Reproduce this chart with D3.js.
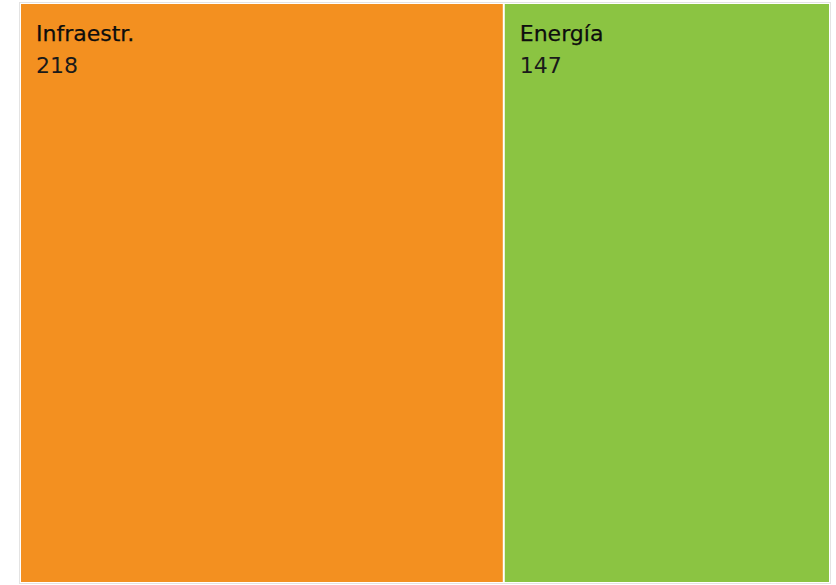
<!DOCTYPE html>
<html>
<head>
<meta charset="utf-8">
<script src="https://cdn.jsdelivr.net/npm/d3@7"></script>
<style>
  body { margin: 0; background: #fff; }
  text { font-family: "DejaVu Sans", sans-serif; }
</style>
</head>
<body>
<svg id="chart"></svg>
<script>
const categories = ["Infraestr.", "Energía"];
const values = [218, 147];
const colors = ["#F39020", "#8BC442"];

const width = 836,
      height = 585,
      svg = d3.select("#chart")
              .attr("width", width)
              .attr("height", height);

const x0 = 21, y0 = 4, x1 = 829, y1 = 582;

// light frame around the whole tree
svg.append("rect")
    .attr("x", x0 - 1.5)
    .attr("y", y0 - 1.5)
    .attr("width", x1 - x0 + 3)
    .attr("height", y1 - y0 + 3)
    .attr("fill", "none")
    .attr("stroke", "#e3e3e3");

const root = d3.hierarchy({children: categories.map((c, i) => ({name: c, value: values[i], color: colors[i]}))})
    .sum((d) => d.value || 0);

d3.treemap()
    .tile(d3.treemapDice)
    .size([x1 - x0, y1 - y0])
    .paddingInner(2)(root);

const cell = svg.append("g")
    .attr("transform", `translate(${[x0, y0]})`)
  .selectAll(".cell")
    .data(root.leaves())
    .enter().append("g")
      .attr("class", "cell")
      .attr("transform", (d) => `translate(${[d.x0, d.y0]})`);

cell.append("rect")
    .attr("width", (d) => d.x1 - d.x0)
    .attr("height", (d) => d.y1 - d.y0)
    .attr("fill", (d) => d.data.color);

cell.append("text")
    .attr("x", 15)
    .attr("y", 37)
    .attr("font-size", 22)
    .attr("fill", "#0d0d0d")
    .attr("stroke", "#0d0d0d")
    .attr("stroke-width", 0.25)
    .text((d) => d.data.name);

cell.append("text")
    .attr("x", 15)
    .attr("y", 69)
    .attr("font-size", 22)
    .attr("fill", "#1a1a1a")
    .text((d) => d.data.value);
</script>
</body>
</html>
